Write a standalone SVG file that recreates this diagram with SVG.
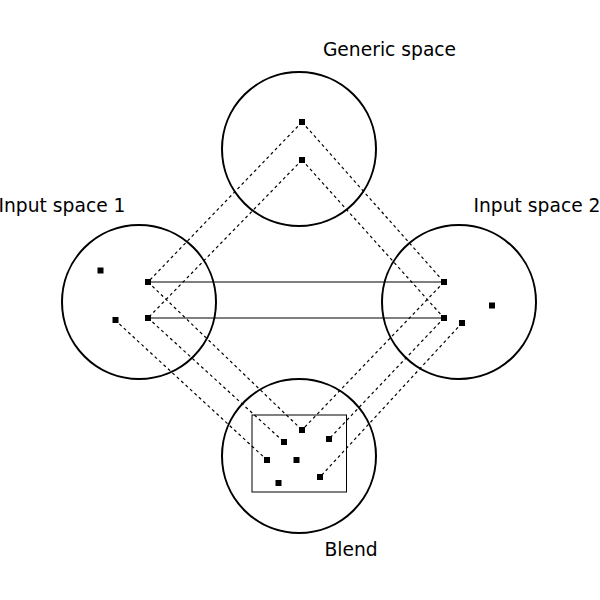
<svg xmlns="http://www.w3.org/2000/svg" width="600" height="600" viewBox="0 0 600 600">
<style>
.space{fill:none;stroke:#000;stroke-width:2}
.pt{fill:#000}
.lbl{font-family:"DejaVu Sans",sans-serif;font-size:18.7px;fill:#000;text-anchor:middle}
.dash{stroke:#000;stroke-width:1.2;stroke-dasharray:3,3;fill:none}
.solid{stroke:#000;stroke-width:1;fill:none}
</style>
<rect width="600" height="600" fill="#fff"/>
<g id="connectors">
<line class="dash" x1="302" y1="122" x2="148" y2="282"/>
<line class="dash" x1="302" y1="122" x2="444" y2="282"/>
<line class="dash" x1="302" y1="160" x2="148" y2="318"/>
<line class="dash" x1="302" y1="160" x2="444" y2="318"/>
<line class="dash" x1="148" y1="282" x2="302" y2="430"/>
<line class="dash" x1="148" y1="318" x2="284" y2="442"/>
<line class="dash" x1="115" y1="320" x2="267" y2="460"/>
<line class="dash" x1="444" y1="282" x2="302" y2="430"/>
<line class="dash" x1="444" y1="318" x2="329" y2="439"/>
<line class="dash" x1="462" y1="323" x2="320" y2="477"/>
<line class="solid" x1="148" y1="282" x2="444" y2="282"/>
<line class="solid" x1="148" y1="318" x2="444" y2="318"/>
</g>
<g id="generic">
<circle class="space" cx="299" cy="149" r="77"/>
<rect class="pt" x="299" y="119" width="6" height="6"/>
<rect class="pt" x="299" y="157" width="6" height="6"/>
<text class="lbl" x="389.5" y="56">Generic space</text>
</g>
<g id="input1">
<circle class="space" cx="139" cy="302" r="77"/>
<rect class="pt" x="97.5" y="267.5" width="6" height="6"/>
<rect class="pt" x="145" y="279" width="6" height="6"/>
<rect class="pt" x="145" y="315" width="6" height="6"/>
<rect class="pt" x="112.5" y="317" width="6" height="6"/>
<text class="lbl" x="62" y="212">Input space 1</text>
</g>
<g id="input2">
<circle class="space" cx="459" cy="302" r="77"/>
<rect class="pt" x="441" y="279" width="6" height="6"/>
<rect class="pt" x="441" y="315" width="6" height="6"/>
<rect class="pt" x="489" y="302.5" width="6" height="6"/>
<rect class="pt" x="459" y="320" width="6" height="6"/>
<text class="lbl" x="537" y="212">Input space 2</text>
</g>
<g id="blend">
<circle class="space" cx="299" cy="456" r="77"/>
<rect class="solid" x="252" y="415" width="94.5" height="77"/>
<rect class="pt" x="299" y="427" width="6" height="6"/>
<rect class="pt" x="281" y="439" width="6" height="6"/>
<rect class="pt" x="326" y="436" width="6" height="6"/>
<rect class="pt" x="264" y="457" width="6" height="6"/>
<rect class="pt" x="293.5" y="457" width="6" height="6"/>
<rect class="pt" x="317" y="474" width="6" height="6"/>
<rect class="pt" x="275.5" y="480" width="6" height="6"/>
<text class="lbl" x="351" y="556">Blend</text>
</g>
</svg>
